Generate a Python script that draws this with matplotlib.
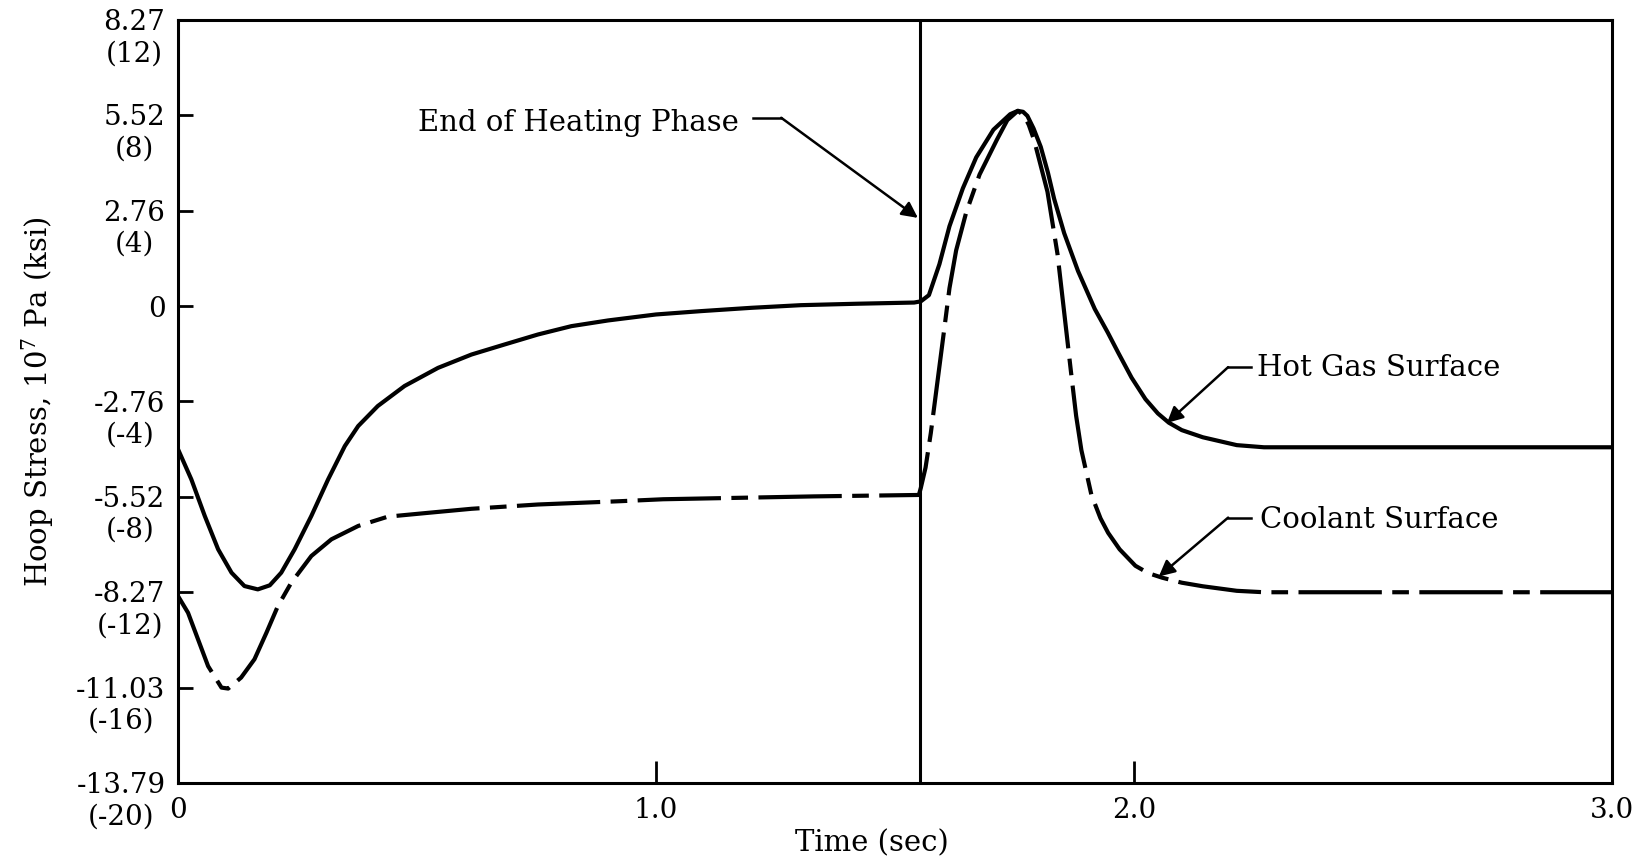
import numpy as np
import matplotlib
matplotlib.use("Agg")
import matplotlib.pyplot as plt

plt.rcParams['font.family'] = ['DejaVu Serif']
plt.rcParams['mathtext.fontset'] = 'dejavuserif'

# hoop stress in ksi, time in sec
time_hot = [0.0, 0.028, 0.056, 0.084, 0.112, 0.139, 0.167, 0.192, 0.216, 0.244,
            0.279, 0.314, 0.349, 0.377, 0.418, 0.474, 0.544, 0.614, 0.683, 0.753,
            0.823, 0.9, 1.0, 1.094, 1.2, 1.303, 1.42, 1.54, 1.554, 1.571,
            1.593, 1.614, 1.642, 1.670, 1.706, 1.741, 1.757, 1.768, 1.777, 1.79,
            1.805, 1.82, 1.833, 1.854, 1.883, 1.918, 1.945, 1.967, 1.995, 2.024,
            2.05, 2.073, 2.1, 2.144, 2.215, 2.272, 3.0]
hot_gas = [-6.0, -7.27, -8.8, -10.2, -11.18, -11.74, -11.88, -11.71, -11.18, -10.2,
           -8.8, -7.27, -5.87, -5.03, -4.19, -3.35, -2.59, -2.03, -1.61, -1.19,
           -0.84, -0.6, -0.35, -0.21, -0.07, 0.04, 0.1, 0.15, 0.2, 0.46,
           1.76, 3.35, 4.94, 6.24, 7.40, 8.05, 8.19, 8.15, 7.98, 7.45,
           6.68, 5.6, 4.5, 3.06, 1.47, -0.12, -1.1, -1.95, -3.0, -3.9,
           -4.5, -4.89, -5.2, -5.5, -5.83, -5.92, -5.92]

time_cool = [0.0, 0.021, 0.042, 0.063, 0.091, 0.105, 0.132, 0.160, 0.185, 0.209,
             0.237, 0.279, 0.321, 0.377, 0.439, 0.523, 0.614, 0.753, 0.927, 1.015,
             1.33, 1.55, 1.554, 1.564, 1.575, 1.589, 1.603, 1.614, 1.628, 1.649,
             1.677, 1.713, 1.735, 1.757, 1.77, 1.78, 1.791, 1.819, 1.840, 1.854,
             1.868, 1.879, 1.890, 1.911, 1.93, 1.946, 1.97, 2.003, 2.03, 2.059,
             2.1, 2.144, 2.215, 2.272, 3.0]
coolant = [-12.16, -12.86, -13.98, -15.1, -16.0, -16.04, -15.58, -14.81, -13.7, -12.58,
           -11.6, -10.48, -9.78, -9.22, -8.83, -8.67, -8.5, -8.32, -8.18, -8.1,
           -7.98, -7.92, -7.63, -6.77, -5.32, -3.15, -0.98, 0.75, 2.34, 3.93,
           5.52, 6.97, 7.8, 8.19, 8.0, 7.6, 6.97, 4.8, 2.19, -0.26,
           -2.72, -4.6, -6.04, -7.92, -8.9, -9.51, -10.2, -10.89, -11.2, -11.39,
           -11.6, -11.75, -11.94, -12.0, -12.0]

end_heating = 1.552

ksi_ticks = [-20, -16, -12, -8, -4, 0, 4, 8, 12]
pa_labels = ['-13.79', '-11.03', '-8.27', '-5.52', '-2.76', '0', '2.76', '5.52', '8.27']
time_ticks = [0, 1, 2, 3]
time_labels = ['0', '1.0', '2.0', '3.0']

fs = 20

fig = plt.figure(figsize=(16.42, 8.59), dpi=100)
ax = fig.add_axes([0.1084, 0.0885, 0.8733, 0.8882])

ax.plot(time_hot, hot_gas, color='k', lw=3.0, solid_joinstyle='round')
ax.plot(time_cool, coolant, color='k', lw=3.0, linestyle=(0, (20, 2.5, 4, 2.5)),
        dash_joinstyle='round')
ax.axvline(end_heating, color='k', lw=2.2)

ax.set_xlim(0, 3)
ax.set_ylim(-20, 12)

# y tick labels: Pa value on the tick, ksi value in brackets below it
ax.set_yticks(ksi_ticks)
ax.tick_params(axis='y', direction='in', length=11, width=2, labelleft=False)
for p, k in zip(pa_labels, ksi_ticks):
    if k == 0:
        ax.annotate(p, xy=(0, k), xycoords=('axes fraction', 'data'),
                    xytext=(-9, 0), textcoords='offset points',
                    ha='right', va='center_baseline', fontsize=fs)
    else:
        ax.annotate(f"{p}\n({k})", xy=(0, k), xycoords=('axes fraction', 'data'),
                    xytext=(-9, 0.395 * fs), textcoords='offset points',
                    ha='right', va='top', multialignment='center',
                    linespacing=1.2, fontsize=fs)

ax.set_xticks(time_ticks)
ax.set_xticklabels(time_labels, fontsize=fs)
ax.tick_params(axis='x', direction='in', length=16, width=2, pad=10)
for s in ax.spines.values():
    s.set_linewidth(2.2)

ax.set_xlabel('Time (sec)', fontsize=21, labelpad=4, x=0.484)
ax.set_ylabel('Hoop Stress, 10$^7$ Pa (ksi)', fontsize=21)
ax.yaxis.set_label_coords(-0.085, 0.5)

# annotations
arrow = dict(arrowstyle='-|>', color='k', lw=1.8, mutation_scale=24, shrinkA=0, shrinkB=0)
ax.text(1.174, 7.35, 'End of Heating Phase', fontsize=21, ha='right', va='baseline')
ax.plot([1.203, 1.262], [7.9, 7.9], color='k', lw=1.8)
ax.annotate('', xy=(1.548, 3.7), xytext=(1.262, 7.9), arrowprops=arrow)

ax.text(2.257, -2.94, 'Hot Gas Surface', fontsize=21, ha='left', va='baseline')
ax.plot([2.197, 2.245], [-2.56, -2.56], color='k', lw=1.8)
ax.annotate('', xy=(2.069, -4.9), xytext=(2.197, -2.56), arrowprops=arrow)

ax.text(2.264, -9.29, 'Coolant Surface', fontsize=21, ha='left', va='baseline')
ax.plot([2.197, 2.245], [-8.87, -8.87], color='k', lw=1.8)
ax.annotate('', xy=(2.052, -11.34), xytext=(2.197, -8.87), arrowprops=arrow)

fig.savefig('out.png', dpi=100)
